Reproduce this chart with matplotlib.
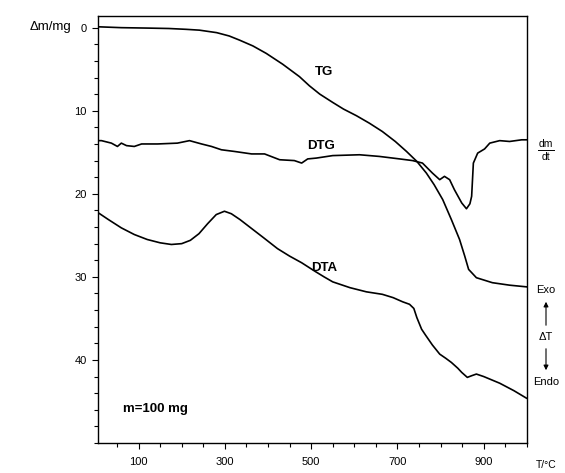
import matplotlib.pyplot as plt
from matplotlib.ticker import MultipleLocator, FixedLocator

plt.rcParams['font.family'] = ['Liberation Sans', 'DejaVu Sans']

# TG curve (mass loss, mg)
tg_t = [9, 60, 120, 170, 210, 241, 281, 310, 334, 365, 396, 434, 473, 496, 520, 550,
        575, 605, 635, 665, 695, 721, 745, 767, 785, 805, 825, 844, 856, 865, 883,
        920, 960, 999]
tg_y = [-0.1, 0.0, 0.05, 0.1, 0.2, 0.3, 0.6, 1.0, 1.5, 2.2, 3.1, 4.4, 5.9, 7.0, 8.0,
        9.0, 9.8, 10.6, 11.5, 12.5, 13.7, 14.9, 16.1, 17.5, 18.9, 20.7, 23.1, 25.5,
        27.5, 29.1, 30.1, 30.7, 31.0, 31.2]

# DTG curve
dtg_t = [7, 14, 37, 51, 60, 72, 90, 107, 144, 190, 218, 246, 269, 292, 322, 362, 392,
         427, 461, 478, 492, 512, 550, 612, 658, 705, 735, 758, 781, 798, 809, 821,
         832, 849, 860, 868, 872, 876, 886, 902, 914, 937, 960, 988, 999]
dtg_y = [13.6, 13.6, 13.9, 14.3, 13.9, 14.2, 14.3, 14.0, 14.0, 13.9, 13.6, 14.0, 14.3,
         14.7, 14.9, 15.2, 15.2, 15.9, 16.0, 16.3, 15.8, 15.7, 15.4, 15.3, 15.5, 15.8,
         16.0, 16.3, 17.5, 18.3, 17.9, 18.3, 19.5, 21.1, 21.8, 21.2, 20.3, 16.3, 15.1,
         14.6, 13.9, 13.6, 13.7, 13.5, 13.5]

# DTA curve
dta_t = [7, 30, 60, 90, 120, 150, 176, 200, 220, 240, 260, 280, 299, 315, 335, 360,
         390, 422, 450, 478, 508, 530, 550, 590, 628, 665, 690, 712, 728, 738, 745,
         756, 765, 781, 798, 812, 825, 840, 849, 862, 872, 883, 900, 937, 970, 999]
dta_y = [22.3, 23.1, 24.1, 24.9, 25.5, 25.9, 26.1, 26.0, 25.6, 24.8, 23.6, 22.5, 22.1,
         22.4, 23.1, 24.1, 25.3, 26.6, 27.5, 28.3, 29.3, 30.0, 30.6, 31.3, 31.8, 32.1,
         32.5, 33.0, 33.3, 33.8, 34.9, 36.3, 37.0, 38.2, 39.3, 39.8, 40.3, 41.0, 41.5,
         42.1, 41.9, 41.7, 42.0, 42.8, 43.7, 44.6]

fig = plt.figure(figsize=(5.65, 4.73), dpi=100)
ax = fig.add_axes([0.1735, 0.0634, 0.759, 0.9027])

ax.plot(tg_t, tg_y, color='black', lw=1.2)
ax.plot(dtg_t, dtg_y, color='black', lw=1.2)
ax.plot(dta_t, dta_y, color='black', lw=1.2)

ax.set_xlim(6, 1000)
ax.set_ylim(50, -1.4)

ax.yaxis.set_major_locator(FixedLocator([0, 10, 20, 30, 40]))
ax.yaxis.set_minor_locator(MultipleLocator(2))
ax.xaxis.set_major_locator(FixedLocator([100, 300, 500, 700, 900]))
ax.xaxis.set_minor_locator(MultipleLocator(50))
ax.tick_params(axis='both', which='both', direction='out', labelsize=8, width=0.8)
ax.tick_params(axis='both', which='major', length=4)
ax.tick_params(axis='both', which='minor', length=3)
ax.tick_params(axis='y', which='major', pad=4)
ax.tick_params(axis='x', which='major', pad=6)

for s in ax.spines.values():
    s.set_linewidth(1.0)

# labels on curves
ax.text(531, 5.3, 'TG', fontsize=9.5, fontweight='bold', ha='center', va='center')
ax.text(524, 14.2, 'DTG', fontsize=9.5, fontweight='bold', ha='center', va='center')
ax.text(531, 28.9, 'DTA', fontsize=9.5, fontweight='bold', ha='center', va='center')
ax.text(65, 45.9, 'm=100 mg', fontsize=9.5, fontweight='bold', ha='left', va='center')

# axis captions
fig.text(50 / 565, 1 - 27 / 473, 'Δm/mg', fontsize=9.5, ha='center', va='center')
fig.text(546 / 565, 1 - 465 / 473, 'T/°C', fontsize=7.5, ha='center', va='center')
fig.text(546 / 565, 1 - 144 / 473, 'dm', fontsize=7.5, ha='center', va='center')
fig.add_artist(plt.Line2D([538 / 565, 554 / 565], [1 - 150 / 473, 1 - 150 / 473],
                          color='black', lw=0.7))
fig.text(546 / 565, 1 - 157 / 473, 'dt', fontsize=7.5, ha='center', va='center')

fig.text(546 / 565, 1 - 290 / 473, 'Exo', fontsize=8, ha='center', va='center')
fig.text(546 / 565, 1 - 337 / 473, 'ΔT', fontsize=8, ha='center', va='center')
fig.text(546 / 565, 1 - 382 / 473, 'Endo', fontsize=8, ha='center', va='center')
ax.annotate('', xy=(546 / 565, 1 - 299 / 473), xytext=(546 / 565, 1 - 328 / 473),
            xycoords='figure fraction', textcoords='figure fraction',
            arrowprops=dict(arrowstyle='-|>', color='black', lw=0.8, mutation_scale=7))
ax.annotate('', xy=(546 / 565, 1 - 373 / 473), xytext=(546 / 565, 1 - 346 / 473),
            xycoords='figure fraction', textcoords='figure fraction',
            arrowprops=dict(arrowstyle='-|>', color='black', lw=0.8, mutation_scale=7))

fig.savefig('out.png', dpi=100)
